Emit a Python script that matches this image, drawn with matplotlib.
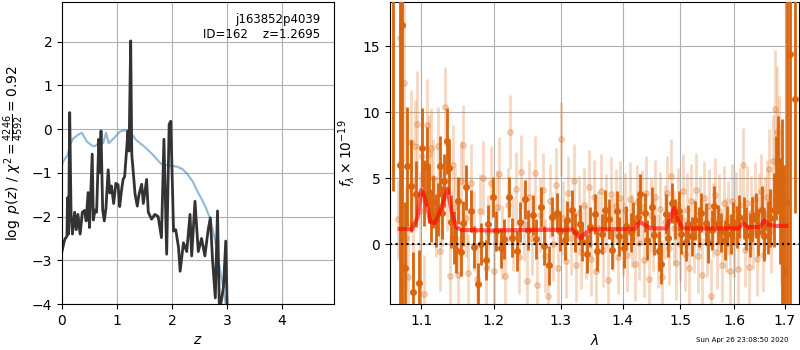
import matplotlib.pyplot as plt
from matplotlib.ticker import FixedLocator, FormatStrFormatter, NullLocator

# p(z) panel
pz_z = [0.00, 0.05, 0.09, 0.10, 0.12, 0.14, 0.165, 0.19, 0.23, 0.26, 0.29, 0.33,
        0.37, 0.41, 0.44, 0.475, 0.50, 0.55, 0.57, 0.60, 0.63, 0.67, 0.69, 0.71,
        0.74, 0.77, 0.80, 0.84, 0.87, 0.90, 0.94, 0.98, 1.02, 1.05, 1.08, 1.11,
        1.14, 1.17, 1.20, 1.22, 1.25, 1.27, 1.30, 1.33, 1.37, 1.40, 1.45, 1.48,
        1.54, 1.57, 1.63, 1.69, 1.75, 1.81, 1.855, 1.905, 1.95, 1.98, 2.03, 2.07,
        2.12, 2.15, 2.21, 2.27, 2.33, 2.36, 2.42, 2.48, 2.54, 2.60, 2.66, 2.70,
        2.74, 2.79, 2.83, 2.865, 2.94, 2.98, 3.01]
pz_logp = [-2.79, -2.52, -2.45, -1.57, -2.40, 0.38, -1.95, -2.40, -1.90, -2.30, -1.95, -2.40,
           -1.90, -1.86, -2.10, -1.45, -2.25, -0.57, -2.08, -1.85, -1.90, -0.23, -1.00, -0.04,
           -1.85, -2.10, -1.80, -0.93, -1.46, -1.30, -1.70, -1.24, -1.27, -1.77, -1.43, -1.16,
           -1.08, -0.57, -0.04, -0.50, 2.02, -0.58, -1.03, -1.49, -1.76, -1.50, -1.26, -1.70,
           -1.15, -1.90, -2.06, -1.95, -2.00, -2.48, -0.23, -2.86, 0.11, 0.18, -2.33, -2.30,
           -2.70, -3.25, -2.60, -2.80, -1.95, -2.90, -1.65, -2.80, -2.50, -2.90, -2.30, -2.03,
           -3.00, -3.86, -1.87, -4.20, -3.60, -2.56, -4.30]

prior_z = [0.00, 0.05, 0.10, 0.15, 0.20, 0.30, 0.36, 0.45, 0.55, 0.60, 0.68, 0.75,
           0.80, 0.85, 0.95, 1.05, 1.15, 1.25, 1.35, 1.50, 1.65, 1.75, 1.81, 1.90,
           2.00, 2.10, 2.20, 2.29, 2.38, 2.48, 2.55, 2.62, 2.69, 2.78, 2.87, 2.93, 2.98]
prior_logp = [-0.80, -0.68, -0.60, -0.35, -0.22, -0.12, -0.08, -0.28, -0.38, -0.39, -0.30, -0.32,
              -0.08, -0.32, -0.20, -0.06, -0.02, -0.08, -0.25, -0.40, -0.58, -0.72, -0.80, -0.82,
              -0.84, -0.86, -0.92, -1.04, -1.20, -1.46, -1.62, -1.80, -2.03, -2.50, -3.17, -3.60, -4.00]

# spectrum panel: strong points
wave_a = [1.0634, 1.0723, 1.0753, 1.0788, 1.082, 1.086, 1.089, 1.093, 1.097, 1.101,
          1.104, 1.107, 1.110, 1.113, 1.116, 1.119, 1.122, 1.125, 1.128, 1.131,
          1.134, 1.137, 1.140, 1.144, 1.147, 1.150, 1.153,
          1.157, 1.160, 1.167, 1.171, 1.178, 1.181, 1.188, 1.192, 1.199, 1.203,
          1.210, 1.214, 1.222, 1.226, 1.234, 1.238, 1.246, 1.250, 1.258, 1.262,
          1.270, 1.274, 1.282, 1.286, 1.294, 1.298, 1.306, 1.310, 1.318, 1.322,
          1.330, 1.334, 1.342, 1.346, 1.354, 1.358, 1.366, 1.370, 1.378, 1.382,
          1.390, 1.394, 1.402, 1.406, 1.414, 1.418, 1.426, 1.430, 1.438, 1.442,
          1.450, 1.454, 1.462, 1.466, 1.474, 1.478, 1.486, 1.490, 1.498, 1.502,
          1.510, 1.514, 1.522, 1.526, 1.534, 1.538, 1.546, 1.550, 1.558, 1.562,
          1.570, 1.574, 1.582, 1.586, 1.594, 1.598, 1.606, 1.610, 1.618, 1.622,
          1.630, 1.634, 1.642, 1.646, 1.654, 1.658, 1.666, 1.670, 1.678,
          1.682, 1.686, 1.690, 1.6933, 1.698, 1.7047, 1.7102, 1.7205]
flux_a = [20.0, 6.0, 16.6, -1.8, 5.9, 4.4, -3.6, 3.8, -2.9, 7.3,
          3.9, 5.9, 3.8, 2.2, 3.2, 1.8, 2.6, 5.9, 2.4, 4.8,
          7.8, 5.8, 1.7, 0.5, -0.4, 3.3, -0.6,
          1.6, 4.3, 2.5, -0.2, -3.0, 0.0, -1.2, 1.5, 3.6, 1.0,
          -0.3, 0.4, 3.6, 0.5, -0.5, 1.7, 3.4, 1.1, 2.2, 0.4,
          2.8, -0.1, -1.6, 2.1, 2.4, 1.0, 0.3, 1.8, 2.6, 0.9,
          1.5, 0.2, -0.7, 1.3, 2.3, -0.5, 0.8, 2.6, 1.9, -0.4,
          2.5, 0.6, -0.3, 1.4, 0.9, 1.7, 2.1, 3.8, 2.4, 0.3,
          2.8, 0.7, -0.5, -1.5, 2.3, 0.5, 3.1, 1.9, 2.5, 0.8,
          0.2, 1.5, 0.6, 1.8, 1.3, 2.4, 1.6, 0.1, 1.1, 2.9,
          1.5, 0.9, 0.3, 1.4, 0.8, 1.7, 1.3, 2.1, 2.0, 1.2,
          0.7, 1.9, 2.2, 0.9, 2.6, 0.6, 1.3, 2.0, 2.6,
          5.0, 6.2, 2.5, 2.0, -2.0, 3.2, 14.4, 11.0]
err_a = [16.0, 30.0, 25.0, 5.0, 4.5, 3.5, 3.0, 2.5, 2.5, 3.0,
         2.5, 3.0, 2.2, 2.0, 2.0, 2.0, 2.0, 2.3, 2.0, 2.0,
         2.5, 2.0, 2.0, 2.0, 1.8, 1.8, 1.8,
         1.7, 1.7, 1.6, 1.6, 1.6, 1.6, 1.5, 1.5, 1.5, 1.5,
         1.5, 1.5, 1.5, 1.5, 1.5, 1.5, 1.5, 1.5, 1.5, 1.5,
         1.5, 1.5, 1.5, 1.5, 1.5, 1.5, 1.5, 1.5, 1.5, 1.5,
         1.5, 1.5, 1.5, 1.5, 1.5, 1.5, 1.5, 1.5, 1.5, 1.5,
         1.5, 1.5, 1.5, 1.5, 1.5, 1.5, 1.5, 1.5, 1.5, 1.5,
         1.5, 1.5, 1.5, 1.5, 1.5, 1.5, 1.5, 1.5, 1.5, 1.5,
         1.5, 1.5, 1.5, 1.5, 1.5, 1.5, 1.5, 1.5, 1.5, 1.5,
         1.5, 1.5, 1.5, 1.5, 1.5, 1.5, 1.6, 1.6, 1.6, 1.6,
         1.7, 1.7, 1.7, 1.8, 1.8, 1.9, 2.0, 2.2, 2.8,
         3.2, 3.5, 4.0, 7.5, 8.0, 30.0, 20.0, 8.6]

# spectrum panel: faint points
wave_b = [1.070, 1.073, 1.077, 1.080, 1.083, 1.086, 1.089, 1.092, 1.095, 1.098,
          1.101, 1.104, 1.107, 1.110, 1.113, 1.116, 1.119, 1.122, 1.125, 1.128,
          1.132, 1.135, 1.138, 1.142, 1.146, 1.149, 1.153, 1.157, 1.160, 1.164,
          1.168, 1.172, 1.176, 1.180, 1.184, 1.188, 1.192, 1.196, 1.200, 1.204,
          1.208, 1.212, 1.216, 1.220, 1.224, 1.228, 1.232, 1.236, 1.240, 1.244,
          1.248, 1.252, 1.256, 1.260, 1.264, 1.268, 1.272, 1.276, 1.280, 1.284,
          1.288, 1.292, 1.296, 1.300, 1.304, 1.308, 1.312, 1.316, 1.320, 1.324,
          1.328, 1.332, 1.336, 1.340, 1.344, 1.348, 1.352, 1.356, 1.360, 1.364,
          1.368, 1.372, 1.376, 1.380, 1.384, 1.388, 1.392, 1.396, 1.400, 1.404,
          1.408, 1.412, 1.416, 1.420, 1.424, 1.428, 1.432, 1.436, 1.440, 1.444,
          1.448, 1.452, 1.456, 1.460, 1.464, 1.468, 1.472, 1.476, 1.480, 1.484,
          1.488, 1.492, 1.496, 1.500, 1.504, 1.508, 1.512, 1.516, 1.520, 1.524,
          1.528, 1.532, 1.536, 1.540, 1.544, 1.548, 1.552, 1.556, 1.560, 1.564,
          1.568, 1.572, 1.576, 1.580, 1.584, 1.588, 1.592, 1.596, 1.600, 1.604,
          1.608, 1.612, 1.616, 1.620, 1.624, 1.628, 1.632, 1.636, 1.640, 1.644,
          1.648, 1.652, 1.656, 1.660, 1.664, 1.668, 1.672, 1.676, 1.680, 1.684,
          1.688, 1.692]
flux_b = [1.9, 15.6, 12.2, 0.5, -2.5, 7.7, 1.5, 7.4, 9.1, 2.5,
          6.7, -3.8, 9.0, 6.8, 7.3, 5.0, 2.0, 7.4, -0.5, 2.8,
          10.4, 4.0, -2.4, 6.0, 2.8, -2.3, 4.8, 7.5, 2.0, -2.2,
          4.6, 1.0, -2.6, 2.5, 5.0, -1.8, 0.9, 4.6, -2.0, 2.8,
          5.3, 0.2, -2.4, 3.0, 8.5, 0.8, 4.2, -1.0, 5.5, 1.5,
          -2.8, 3.6, 0.5, 5.4, -3.1, 2.2, 4.1, -0.9, -3.9, 3.3,
          0.0, 4.5, -1.8, 8.0, 2.0, -1.3, 3.9, 0.5, 4.8, -1.6,
          2.4, -0.6, 3.0, 0.2, 4.3, -1.1, 3.6, -2.0, 1.2, 4.0,
          -0.4, 2.5, -2.7, 3.8, 0.8, 2.9, -1.0, 3.5, 0.4, 2.6,
          -0.8, 3.4, 1.0, -1.5, 3.2, 0.1, 2.8, -1.2, 3.9, -2.6,
          2.2, 0.8, 3.6, -0.5, 2.7, -2.5, 1.7, 3.9, -0.3, 5.2,
          1.2, -1.4, 3.0, 0.0, 4.0, -0.7, 2.6, -1.8, 3.3, 0.6,
          4.1, -0.9, 2.4, -2.3, 3.5, 0.3, 2.9, -3.9, 1.8, 3.7,
          -0.6, 2.5, -1.6, 3.1, 0.7, 2.0, -2.0, 3.3, 0.3, 2.7,
          -1.9, 3.0, 6.0, -0.4, 3.1, -1.7, 2.4, 0.9, 3.4, -1.1,
          2.6, 4.0, -0.8, 2.3, 3.6, 5.7, 1.0, 6.3, 10.2, 8.5,
          6.2, 3.0]
err_b = [3.0, 8.0, 6.0, 4.0, 4.0, 4.0, 3.5, 3.5, 4.0, 3.0,
         3.5, 3.0, 3.5, 3.0, 3.0, 3.0, 3.0, 3.0, 3.0, 3.0,
         3.0, 3.0, 3.0, 3.0, 3.0, 3.0, 3.0, 3.0, 3.0, 3.0,
         3.0, 3.0, 2.8, 2.8, 2.8, 2.8, 2.8, 2.8, 2.8, 2.8,
         2.8, 2.8, 2.8, 2.8, 2.8, 2.8, 2.8, 2.8, 2.8, 2.8,
         2.8, 2.8, 2.8, 2.8, 2.8, 2.8, 2.8, 2.8, 2.8, 2.8,
         2.8, 2.8, 2.8, 2.8, 2.8, 2.8, 2.8, 2.8, 2.8, 2.8,
         2.8, 2.8, 2.8, 2.8, 2.8, 2.8, 2.8, 2.8, 2.8, 2.8,
         2.8, 2.8, 2.8, 2.8, 2.8, 2.8, 2.8, 2.8, 2.8, 2.8,
         2.8, 2.8, 2.8, 2.8, 2.8, 2.8, 2.8, 2.8, 2.8, 2.8,
         2.8, 2.8, 2.8, 2.8, 2.8, 2.8, 2.8, 2.8, 2.8, 2.8,
         2.8, 2.8, 2.8, 2.8, 2.8, 2.8, 2.8, 2.8, 2.8, 2.8,
         2.8, 2.8, 2.8, 2.8, 2.8, 2.8, 2.8, 2.8, 2.8, 2.8,
         2.8, 2.8, 2.8, 2.8, 2.8, 2.8, 2.8, 2.8, 2.8, 2.8,
         2.8, 2.8, 2.8, 2.8, 2.8, 2.8, 2.8, 2.8, 2.8, 2.8,
         2.8, 2.8, 2.8, 2.8, 2.8, 3.0, 3.2, 3.5, 4.5, 5.0,
         5.0, 6.0]

# best-fit model
model_wave = [1.072, 1.088, 1.095, 1.100, 1.105, 1.112, 1.118, 1.125, 1.135, 1.141,
              1.147, 1.155, 1.200, 1.250, 1.300, 1.318, 1.326, 1.331, 1.338, 1.348,
              1.400, 1.420, 1.429, 1.438, 1.447, 1.475, 1.481, 1.489, 1.496, 1.504,
              1.550, 1.608, 1.617, 1.626, 1.650, 1.659, 1.667, 1.680, 1.703]
model_flux = [1.15, 1.15, 2.0, 4.1, 3.5, 1.7, 1.6, 2.5, 4.2, 2.4,
              1.3, 1.08, 1.05, 1.08, 1.1, 1.1, 0.7, 0.45, 0.8, 1.12,
              1.15, 1.15, 1.7, 1.45, 1.2, 1.2, 1.8, 2.75, 1.8, 1.2,
              1.2, 1.2, 1.6, 1.3, 1.3, 1.8, 1.5, 1.38, 1.4]

orange = '#d9650f'

fig = plt.figure(figsize=(8, 3.5), dpi=100)
ax1 = fig.add_axes([0.0775, 0.1314, 0.34, 0.8629])
ax2 = fig.add_axes([0.4875, 0.1314, 0.51125, 0.8629])

# left: redshift probability
ax1.plot(prior_z, prior_logp, color='#1f77b4', alpha=0.5, lw=1.5)
ax1.plot(pz_z, pz_logp, color='#333333', lw=2)
ax1.set_xlim(0, 4.95)
ax1.set_ylim(-4, 2.91)
ax1.set_xticks([0, 1, 2, 3, 4])
ax1.set_yticks([-4, -3, -2, -1, 0, 1, 2])
ax1.grid(True)
ax1.set_axisbelow(True)
ax1.set_xlabel('$z$')
ax1.set_ylabel(r'$\log\ p(z)$ / $\chi^2=\frac{4246}{4592}=0.92$')
ax1.text(0.95, 0.965, 'j163852p4039\nID=162    z=1.2695', transform=ax1.transAxes,
         ha='right', va='top', fontsize=8.5)

# right: 1D spectrum
ax2.errorbar(wave_b, flux_b, yerr=err_b, fmt='o', color=orange, alpha=0.25,
             ms=4, elinewidth=2, capsize=0, zorder=2)
ax2.errorbar(wave_a, flux_a, yerr=err_a, fmt='o', color=orange,
             ms=4, elinewidth=2, capsize=0, zorder=3)
ax2.plot(model_wave, model_flux, color='red', alpha=0.6, lw=3, zorder=4)
ax2.axhline(0, color='black', ls=':', lw=1.5, zorder=5)
ax2.set_xscale('log')
ax2.set_xlim(1.0596, 1.729)
ax2.xaxis.set_major_locator(FixedLocator([1.1, 1.2, 1.3, 1.4, 1.5, 1.6, 1.7]))
ax2.xaxis.set_major_formatter(FormatStrFormatter('%.1f'))
ax2.xaxis.set_minor_locator(NullLocator())
ax2.set_ylim(-4.52, 18.33)
ax2.set_yticks([0, 5, 10, 15])
ax2.grid(True)
ax2.set_axisbelow(True)
ax2.set_xlabel(r'$\lambda$')
ax2.set_ylabel(r'$f_\lambda\times10^{-19}$')

fig.text(0.9275, 0.028, 'Sun Apr 26 23:08:50 2020', ha='center', va='center', fontsize=5)

fig.savefig('out.png', dpi=100)
